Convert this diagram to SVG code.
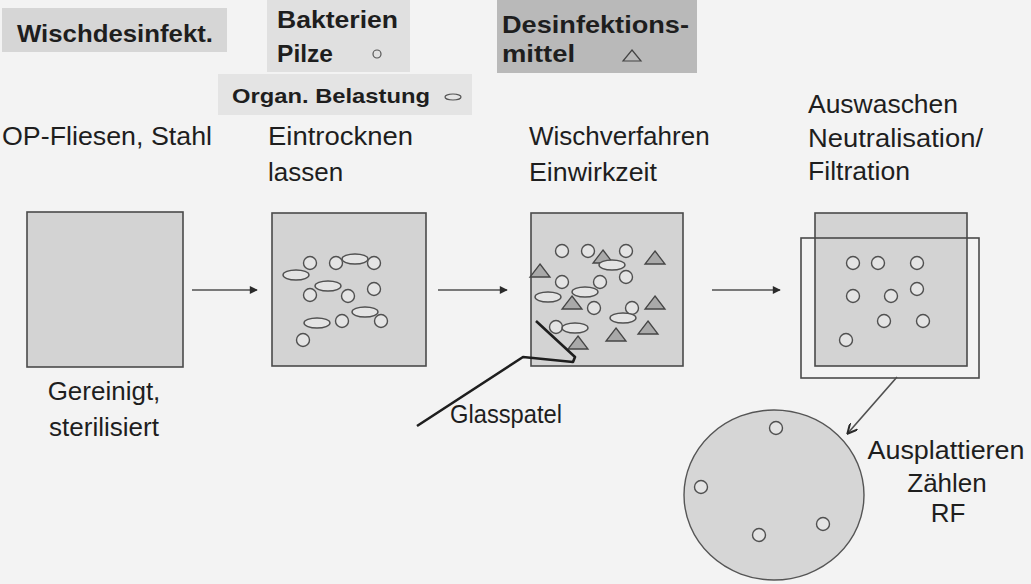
<svg xmlns="http://www.w3.org/2000/svg" width="1031" height="584" viewBox="0 0 1031 584">
<style>
.lbl{font-family:"Liberation Sans",Arial,sans-serif;font-size:26px;fill:#1e1e1e}
.hdr{font-family:"Liberation Sans",Arial,sans-serif;font-weight:bold;fill:#1e1e1e}
.box{fill:#d3d3d3;stroke:#4a4a4a;stroke-width:1.6}
.c{fill:#e4e4e4;stroke:#505050;stroke-width:1.4}
.e{fill:#e4e4e4;stroke:#505050;stroke-width:1.4}
.t{fill:#a9a9a9;stroke:#454545;stroke-width:1.3}
.conn{stroke:#505050;stroke-width:1.6;fill:none}
</style>
<defs>
<marker id="ah" viewBox="0 0 10 10" refX="9" refY="5" markerWidth="9" markerHeight="8" markerUnits="userSpaceOnUse" orient="auto">
<path d="M0,0 L10,5 L0,10 z" fill="#2a2a2a"/>
</marker>
<marker id="ah2" viewBox="0 0 10 10" refX="9" refY="5" markerWidth="11" markerHeight="10" markerUnits="userSpaceOnUse" orient="auto">
<path d="M0,0 L10,5 L0,10" fill="none" stroke="#2a2a2a" stroke-width="2"/>
</marker>
<circle id="cc" r="6.5" class="c"/>
<ellipse id="ee" rx="13" ry="5" class="e"/>
<path id="tt" d="M0,-7 L10,6 L-10,6 z" class="t"/>
</defs>
<rect width="1031" height="584" fill="#f3f3f3"/>

<g id="legend-wisch">
<rect x="2" y="8" width="225" height="44" fill="#d6d6d6"/>
<text class="hdr" x="17" y="42" font-size="24" textLength="196" lengthAdjust="spacingAndGlyphs">Wischdesinfekt.</text>
</g>
<g id="legend-bakterien">
<rect x="267" y="0" width="143" height="72" fill="#e0e0e0"/>
<text class="hdr" x="277" y="28" font-size="24" textLength="121" lengthAdjust="spacingAndGlyphs">Bakterien</text>
<text class="hdr" x="277" y="62" font-size="24" textLength="56" lengthAdjust="spacingAndGlyphs">Pilze</text>
<circle cx="377" cy="54" r="4" fill="none" stroke="#555" stroke-width="1.2"/>
</g>
<g id="legend-organ">
<rect x="218" y="74" width="254" height="41" fill="#e4e4e4"/>
<text class="hdr" x="232" y="103" font-size="21" textLength="198" lengthAdjust="spacingAndGlyphs">Organ. Belastung</text>
<ellipse cx="453" cy="97" rx="8" ry="3" fill="none" stroke="#555" stroke-width="1.2"/>
</g>
<g id="legend-desinf">
<rect x="497" y="0" width="200" height="73" fill="#b9b9b9"/>
<text class="hdr" x="502" y="33" font-size="24" textLength="187" lengthAdjust="spacingAndGlyphs">Desinfektions-</text>
<text class="hdr" x="502" y="62" font-size="24" textLength="73" lengthAdjust="spacingAndGlyphs">mittel</text>
<path d="M632,50 L641,61 L623,61 z" fill="none" stroke="#444" stroke-width="1.2"/>
</g>

<g id="step1">
<text class="lbl" x="2" y="145" textLength="210" lengthAdjust="spacingAndGlyphs">OP-Fliesen, Stahl</text>
<rect class="box" x="27" y="212" width="156" height="155"/>
<text class="lbl" x="104" y="400" text-anchor="middle">Gereinigt,</text>
<text class="lbl" x="104" y="436" text-anchor="middle">sterilisiert</text>
</g>

<g id="step2">
<text class="lbl" x="268" y="145" textLength="145" lengthAdjust="spacingAndGlyphs">Eintrocknen</text>
<text class="lbl" x="268" y="181">lassen</text>
<rect class="box" x="272" y="213" width="154" height="153"/>
<use href="#ee" x="296" y="275"/>
<use href="#ee" x="355" y="259"/>
<use href="#ee" x="328" y="286"/>
<use href="#ee" x="317" y="323"/>
<use href="#ee" x="365" y="312"/>
<use href="#cc" x="310" y="263"/>
<use href="#cc" x="336" y="263"/>
<use href="#cc" x="374" y="263"/>
<use href="#cc" x="310" y="295"/>
<use href="#cc" x="348" y="296"/>
<use href="#cc" x="374" y="289"/>
<use href="#cc" x="342" y="321"/>
<use href="#cc" x="381" y="321"/>
<use href="#cc" x="303" y="340"/>
</g>

<g id="step3">
<text class="lbl" x="529" y="145">Wischverfahren</text>
<text class="lbl" x="529" y="181" textLength="128" lengthAdjust="spacingAndGlyphs">Einwirkzeit</text>
<rect class="box" x="531" y="213" width="152" height="153"/>
<use href="#cc" x="562" y="251"/>
<use href="#cc" x="588" y="251"/>
<use href="#cc" x="626" y="251"/>
<use href="#cc" x="562" y="282"/>
<use href="#cc" x="600" y="282"/>
<use href="#cc" x="626" y="277"/>
<use href="#cc" x="594" y="308"/>
<use href="#cc" x="632" y="308"/>
<use href="#cc" x="556" y="327"/>
<use href="#tt" x="603" y="257"/>
<use href="#tt" x="655" y="258"/>
<use href="#tt" x="540" y="271"/>
<use href="#tt" x="572" y="303"/>
<use href="#tt" x="655" y="303"/>
<use href="#tt" x="648" y="328"/>
<use href="#tt" x="616" y="335"/>
<use href="#tt" x="578" y="343"/>
<use href="#ee" x="612" y="265"/>
<use href="#ee" x="585" y="292"/>
<use href="#ee" x="548" y="297"/>
<use href="#ee" x="623" y="318"/>
<use href="#ee" x="575" y="328"/>
</g>

<g id="glasspatel">
<polyline points="417,426 523,357 573,362 575,357 536,321" fill="none" stroke="#1e1e1e" stroke-width="2.6" stroke-linejoin="round"/>
<text class="lbl" x="450" y="423" font-size="19" textLength="112" lengthAdjust="spacingAndGlyphs">Glasspatel</text>
</g>

<g id="step4">
<text class="lbl" x="808" y="113" textLength="150" lengthAdjust="spacingAndGlyphs">Auswaschen</text>
<text class="lbl" x="808" y="147" textLength="175" lengthAdjust="spacingAndGlyphs">Neutralisation/</text>
<text class="lbl" x="808" y="180" textLength="102" lengthAdjust="spacingAndGlyphs">Filtration</text>
<rect class="box" x="815" y="213" width="152" height="153"/>
<rect x="801" y="238" width="178" height="140" fill="none" stroke="#4a4a4a" stroke-width="1.6"/>
<use href="#cc" x="853" y="263"/>
<use href="#cc" x="878" y="263"/>
<use href="#cc" x="917" y="263"/>
<use href="#cc" x="853" y="296"/>
<use href="#cc" x="891" y="296"/>
<use href="#cc" x="917" y="289"/>
<use href="#cc" x="884" y="321"/>
<use href="#cc" x="923" y="321"/>
<use href="#cc" x="846" y="340"/>
</g>

<g id="petri">
<ellipse cx="774" cy="495" rx="90" ry="85" fill="#d6d6d6" stroke="#555" stroke-width="1.4"/>
<use href="#cc" x="776" y="428"/>
<use href="#cc" x="701" y="487"/>
<use href="#cc" x="823" y="524"/>
<use href="#cc" x="759" y="535"/>
<text class="lbl" x="946" y="459" text-anchor="middle" textLength="157" lengthAdjust="spacingAndGlyphs">Ausplattieren</text>
<text class="lbl" x="947" y="492" text-anchor="middle">Zählen</text>
<text class="lbl" x="948" y="522" text-anchor="middle">RF</text>
</g>

<g id="connectors">
<line class="conn" x1="192" y1="290" x2="257" y2="290" marker-end="url(#ah)"/>
<line class="conn" x1="438" y1="290" x2="507" y2="290" marker-end="url(#ah)"/>
<line class="conn" x1="712" y1="290" x2="780" y2="290" marker-end="url(#ah)"/>
<line class="conn" x1="897" y1="377" x2="848" y2="433" stroke-width="1.2" marker-end="url(#ah2)"/>
</g>
</svg>
